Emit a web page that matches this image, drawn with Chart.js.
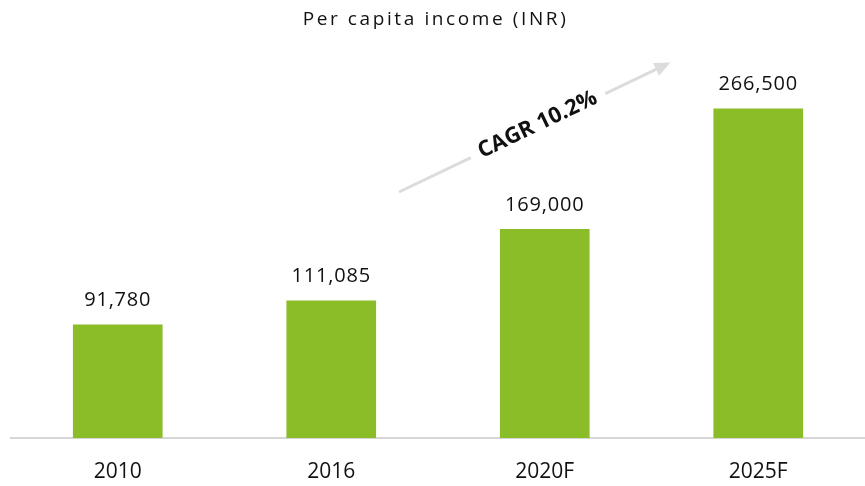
<!DOCTYPE html>
<html>
<head>
<meta charset="utf-8">
<script src="https://cdn.jsdelivr.net/npm/chart.js@4/dist/chart.umd.min.js"></script>
<style>
  html, body { margin: 0; padding: 0; background: #fff; }
  #wrap { width: 865px; height: 486px; }
</style>
</head>
<body>
<div id="wrap"><canvas id="barChart"></canvas></div>
<script>
const years = ['2010', '2016', '2020F', '2025F'];
const income = [91780, 111085, 169000, 266500];
const chartTitle = 'Per capita income (INR)';
const cagrText = 'CAGR 10.2%';

const FONT = '"Open Sans", "Noto Sans", sans-serif';

// value labels above bars + title with letter spacing
const labelsPlugin = {
  id: 'labels',
  afterDatasetsDraw(chart) {
    const ctx = chart.ctx;
    const meta = chart.getDatasetMeta(0);
    ctx.save();
    ctx.font = '20px ' + FONT;
    ctx.letterSpacing = '0.8px';
    ctx.fillStyle = '#111';
    ctx.textAlign = 'center';
    ctx.textBaseline = 'middle';
    meta.data.forEach((bar, i) => {
      ctx.fillText(income[i].toLocaleString('en-US'), bar.x, bar.y - 24);
    });

    ctx.font = '19px ' + FONT;
    ctx.letterSpacing = '2.6px';
    ctx.fillText(chartTitle, chart.width / 2 + 3, 20);
    ctx.restore();
  }
};

// CAGR arrow drawn between the 2016 and 2025F bars
const cagrPlugin = {
  id: 'cagr',
  afterDatasetsDraw(chart) {
    const ctx = chart.ctx;
    const x = chart.scales.x, y = chart.scales.y;
    const x0 = (x.getPixelForValue(1) + x.getPixelForValue(2)) / 2 - 39;
    const y0 = y.getPixelForValue(income[2]) - 37;
    const x1 = (x.getPixelForValue(2) + x.getPixelForValue(3)) / 2 + 19;
    const y1 = y.getPixelForValue(income[3]) - 46;
    const ang = Math.atan2(y1 - y0, x1 - x0);
    const len = Math.hypot(x1 - x0, y1 - y0);
    ctx.save();
    ctx.translate(x0, y0);
    ctx.rotate(ang);
    ctx.strokeStyle = '#dcdcdc';
    ctx.fillStyle = '#dcdcdc';
    ctx.lineWidth = 3;
    const gapA = len * 0.265, gapB = len * 0.76;
    ctx.beginPath();
    ctx.moveTo(0, 0); ctx.lineTo(gapA, 0);
    ctx.moveTo(gapB, 0); ctx.lineTo(len - 12, 0);
    ctx.stroke();
    ctx.beginPath();
    ctx.moveTo(len, 0);
    ctx.lineTo(len - 16, -7);
    ctx.lineTo(len - 16, 7);
    ctx.closePath();
    ctx.fill();
    ctx.fillStyle = '#111';
    ctx.font = 'bold 22px ' + FONT;
    ctx.textAlign = 'center';
    ctx.textBaseline = 'middle';
    ctx.fillText(cagrText, (gapA + gapB) / 2, -1);
    ctx.restore();
  }
};

new Chart(document.getElementById('barChart'), {
  type: 'bar',
  data: {
    labels: years,
    datasets: [{
      data: income,
      backgroundColor: '#8bbd28',
      barPercentage: 0.84,
      categoryPercentage: 0.5
    }]
  },
  options: {
    responsive: true,
    maintainAspectRatio: false,
    animation: false,
    layout: { padding: { top: 67, left: 11, right: 0, bottom: 0 } },
    plugins: {
      legend: { display: false },
      tooltip: { enabled: false }
    },
    scales: {
      x: {
        grid: { display: false, drawTicks: false },
        border: { display: true, color: '#d6d6d6', width: 2 },
        ticks: { color: '#111', font: { family: FONT, size: 21 }, padding: 21 },
        afterFit(scale) { scale.height = 48; }
      },
      y: { display: false, min: 0, max: 300000 }
    }
  },
  plugins: [labelsPlugin, cagrPlugin]
});
</script>
</body>
</html>
